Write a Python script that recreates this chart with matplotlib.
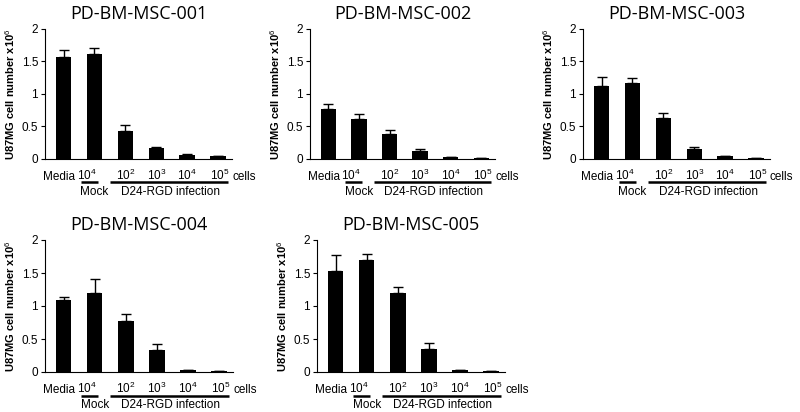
import matplotlib
matplotlib.use("Agg")
import matplotlib.pyplot as plt
import numpy as np

plt.rcParams['font.family'] = ['Liberation Sans', 'DejaVu Sans']
plt.rcParams['mathtext.fontset'] = 'custom'
plt.rcParams['mathtext.rm'] = 'Liberation Sans'
plt.rcParams['mathtext.it'] = 'Liberation Sans'
plt.rcParams['mathtext.bf'] = 'Liberation Sans:bold'

# data (cell number x10^6)
groups = ["Media", r"$10^4$", r"$10^2$", r"$10^3$", r"$10^4$", r"$10^5$"]
titles = ["PD-BM-MSC-001", "PD-BM-MSC-002", "PD-BM-MSC-003",
          "PD-BM-MSC-004", "PD-BM-MSC-005"]

msc001 = [1.57, 1.62, 0.43, 0.17, 0.055, 0.04]
msc001_err = [0.11, 0.09, 0.09, 0.015, 0.025, 0.005]
msc002 = [0.77, 0.62, 0.38, 0.13, 0.025, 0.015]
msc002_err = [0.08, 0.07, 0.07, 0.03, 0.005, 0.005]
msc003 = [1.12, 1.17, 0.63, 0.15, 0.04, 0.01]
msc003_err = [0.14, 0.07, 0.08, 0.03, 0.005, 0.003]
msc004 = [1.09, 1.19, 0.78, 0.34, 0.025, 0.015]
msc004_err = [0.05, 0.22, 0.10, 0.09, 0.005, 0.003]
msc005 = [1.53, 1.70, 1.20, 0.35, 0.025, 0.01]
msc005_err = [0.25, 0.09, 0.09, 0.09, 0.01, 0.003]

values = [msc001, msc002, msc003, msc004, msc005]
errors = [msc001_err, msc002_err, msc003_err, msc004_err, msc005_err]

# axes rectangles in pixels: left, right, y of 0, y of 2
boxes = [(45, 232, 159, 29), (310, 495, 159, 29), (583, 770, 159, 29),
         (45, 233, 372, 240), (317, 505, 372, 240)]
# small horizontal nudges of the group labels (data units)
label_shift = [-0.15, -0.25, 0, 0, 0, 0.05]

W, H = 800, 412
fs = 8.5
fig = plt.figure(figsize=(8, 4.12), dpi=100)

for vals, errs, title, (l, r, y0, y2) in zip(values, errors, titles, boxes):
    ax = fig.add_axes([l / W, 1 - y0 / H, (r - l) / W, (y0 - y2) / H])
    x = np.arange(len(vals))
    ax.bar(x, vals, width=0.5, color='black')
    ax.errorbar(x, vals, yerr=[np.zeros(len(vals)), errs], fmt='none',
                ecolor='black', elinewidth=1, capsize=3.5, capthick=1)
    ax.set_ylim(0, 2)
    ax.set_xlim(-0.6, 5.45)
    ax.set_yticks([0, 0.5, 1, 1.5, 2])
    ax.set_yticklabels(["0", "0.5", "1", "1.5", "2"], fontsize=fs)
    ax.set_xticks([])
    ax.tick_params(axis='y', length=3, width=0.8, pad=2)
    for s in ['top', 'right']:
        ax.spines[s].set_visible(False)
    ax.spines['left'].set_linewidth(0.8)
    ax.spines['bottom'].set_linewidth(0.8)
    ax.set_ylabel(r"U87MG cell number x10$^6$", fontsize=8,
                  fontweight='bold', labelpad=3)
    ax.set_title(title, fontsize=13, family='Open Sans', pad=7)

    trans = ax.get_xaxis_transform()
    hpx = y0 - y2
    for xi, lab, dx in zip(x, groups, label_shift):
        ax.text(xi + dx, -21 / hpx, lab, transform=trans, ha='center',
                va='baseline', fontsize=fs, clip_on=False)
    ax.text(x[-1] + 0.45, -21 / hpx, "cells", transform=trans, ha='left',
            va='baseline', fontsize=fs, clip_on=False)
    ax.plot([x[1] - 0.45, x[1] + 0.1], [-23.5 / hpx] * 2, transform=trans,
            color='black', lw=1.8, clip_on=False, solid_capstyle='butt')
    ax.plot([x[2] - 0.5, x[5] + 0.32], [-23.5 / hpx] * 2, transform=trans,
            color='black', lw=1.8, clip_on=False, solid_capstyle='butt')
    ax.text(x[1], -36 / hpx, "Mock", transform=trans, ha='center',
            va='baseline', fontsize=fs, clip_on=False)
    ax.text((x[2] + x[5]) / 2 - 0.05, -36 / hpx, "D24-RGD infection",
            transform=trans, ha='center', va='baseline', fontsize=fs,
            clip_on=False)

fig.savefig("out.png", dpi=100)
